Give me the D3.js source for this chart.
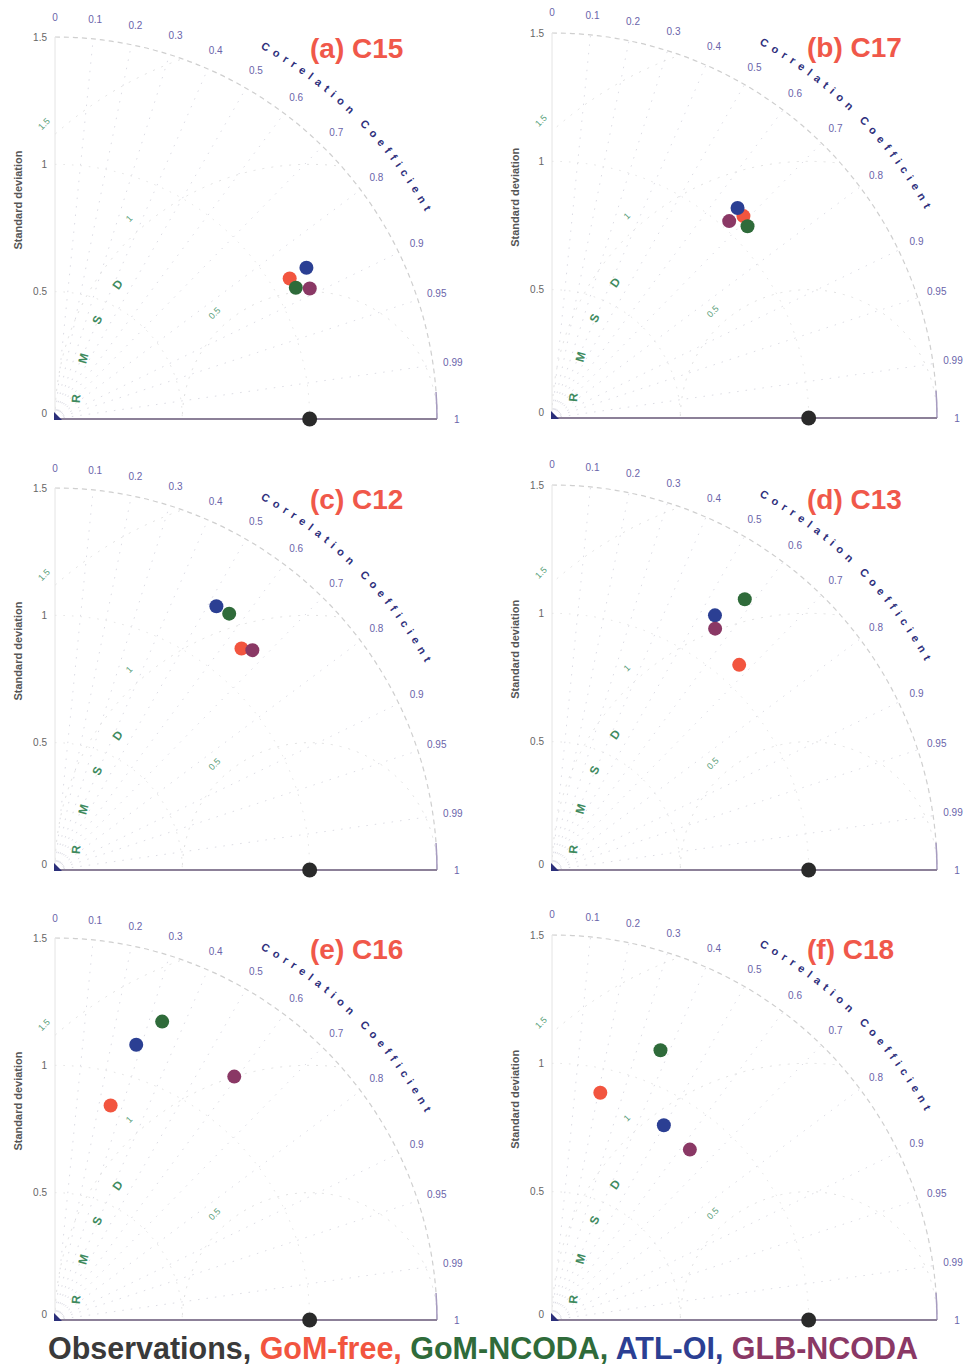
<!DOCTYPE html>
<html><head><meta charset="utf-8">
<script src="https://cdn.jsdelivr.net/npm/d3@7"></script>
<style>body{margin:0;background:#fff}</style>
</head><body>
<svg id="c" width="969" height="1366" xmlns="http://www.w3.org/2000/svg"></svg>
<script>
// ---------------- data ----------------
const panels = ["(a) C15","(b) C17","(c) C12","(d) C13","(e) C16","(f) C18"];
const models = ["GoM-free","GoM-NCODA","ATL-OI","GLB-NCODA"];
const modelColors = ["#f2553f","#2f6b3a","#2b3f93","#8a3865"];
const obsColor = "#2a2a2a";
// normalized standard deviation and correlation per panel (a..f)
const stdGoMfree   = [1.074,1.084,1.137,1.082,0.870,0.905];
const corrGoMfree  = [0.858,0.688,0.644,0.674,0.251,0.208];
const stdGoMNCODA  = [1.077,1.067,1.217,1.295,1.245,1.133];
const corrGoMNCODA = [0.878,0.714,0.562,0.580,0.338,0.373];
const stdATLOI     = [1.152,1.092,1.214,1.178,1.127,0.875];
const corrATLOI    = [0.857,0.662,0.522,0.539,0.283,0.498];
const stdGLBNCODA  = [1.124,1.032,1.160,1.135,1.187,0.854];
const corrGLBNCODA = [0.890,0.669,0.668,0.560,0.593,0.629];
const obsStd = 1, obsCorr = 1;
const corrTicks = [0,0.1,0.2,0.3,0.4,0.5,0.6,0.7,0.8,0.9,0.95,0.99,1];
const stdTicks = [0,0.5,1,1.5];
const stdGrid = [0.5,1];
const rmsTicks = [0.5,1,1.5];
const rmsLetters = ["R","M","S","D"];
const corrTitle = "Correlation Coefficient";
const stdMax = 1.5;
const legendLabels = ["Observations, ","GoM-free, ","GoM-NCODA, ","ATL-OI, ","GLB-NCODA"];
const legendColors = ["#3a3a3a","#f2553f","#2f6b3a","#2b3f93","#8a3865"];

const stdSeries = [stdGoMfree, stdGoMNCODA, stdATLOI, stdGLBNCODA];
const corrSeries = [corrGoMfree, corrGoMNCODA, corrATLOI, corrGLBNCODA];

// ---------------- layout ----------------
const origins = [[55,419],[552,418],[55,870],[552,870],[55,1320],[552,1320]];
const radii = [382,385,382,385,382,385];

const svg = d3.select("#c");
const font = "'Liberation Sans', Arial, sans-serif";
const deg = Math.PI/180;

// measure character widths for curved title
const meas = svg.append("text").attr("font-family", font).attr("font-size", 11).attr("font-weight","bold");
const charW = corrTitle.split("").map(ch => { meas.text(ch === " " ? "\u00a0" : ch); return meas.node().getComputedTextLength(); });
meas.remove();

panels.forEach((title, pi) => {
  const [ox, oy] = origins[pi];
  const R = radii[pi];
  const r = d3.scaleLinear().domain([0, stdMax]).range([0, R]);
  const pos = (s, c) => { const t = Math.acos(c); return [r(s)*Math.cos(t), -r(s)*Math.sin(t)]; };
  const g = svg.append("g").attr("transform", `translate(${ox},${oy})`);

  const clipId = "clip" + pi;
  g.append("clipPath").attr("id", clipId)
    .append("path").attr("d", `M0,0 L${R},0 A${R},${R} 0 0 0 0,${-R} Z`);

  const grid = g.append("g").attr("clip-path", `url(#${clipId})`);
  corrTicks.filter(c => c > 0 && c < 1).forEach(c => {
    const [x, y] = pos(stdMax, c);
    grid.append("line").attr("x1",0).attr("y1",0).attr("x2",x).attr("y2",y)
      .attr("stroke","#dcdce4").attr("stroke-width",1).attr("stroke-dasharray","1.5,7");
  });
  stdGrid.forEach(s => {
    grid.append("path").attr("d", `M0,${-r(s)} A${r(s)},${r(s)} 0 0 1 ${r(s)},0`)
      .attr("fill","none").attr("stroke","#e2e2e2").attr("stroke-dasharray","1.5,7");
  });
  const [obx, oby] = pos(obsStd, obsCorr);
  rmsTicks.forEach(k => {
    grid.append("circle").attr("cx", obx).attr("cy", oby).attr("r", r(k))
      .attr("fill","none").attr("stroke","#e0e0e0").attr("stroke-dasharray","2,7");
  });

  // outer arc
  g.append("path").attr("d", `M0,${-R} A${R},${R} 0 0 1 ${R},0`)
    .attr("fill","none").attr("stroke","#cfcfcf").attr("stroke-width",1.2).attr("stroke-dasharray","5,4");
  const [ex, ey] = pos(stdMax, 0.9975);
  g.append("path").attr("d", `M${ex},${ey} A${R},${R} 0 0 1 ${R},0`)
    .attr("fill","none").attr("stroke","#a79cc0").attr("stroke-width",1.5);
  g.append("line").attr("x1",0).attr("y1",0).attr("x2",0).attr("y2",-R)
    .attr("stroke","#e4e4e4").attr("stroke-width",1);
  g.append("line").attr("x1",0).attr("y1",0).attr("x2",R).attr("y2",0)
    .attr("stroke","#8c8098").attr("stroke-width",2);
  g.append("path").attr("d","M-1,1 L7,1 L-1,-7 Z").attr("fill","#2b2f7a");

  // std tick labels
  stdTicks.forEach(s => {
    g.append("text").attr("x", -8).attr("y", -r(s) + (s === 0 ? -6 : 0))
      .attr("text-anchor","end").attr("dominant-baseline","central")
      .attr("font-family", font).attr("font-size", 10).attr("fill","#666")
      .text(s);
  });
  g.append("text").attr("transform", `translate(-33,${-r(0.86)}) rotate(-90)`)
    .attr("text-anchor","middle").attr("font-family", font).attr("font-size", 11)
    .attr("font-weight","bold").attr("fill","#555").text("Standard deviation");

  // correlation tick labels
  corrTicks.forEach(c => {
    const t = Math.acos(c), rr = R*1.052;
    g.append("text").attr("x", rr*Math.cos(t)).attr("y", -rr*Math.sin(t))
      .attr("text-anchor","middle").attr("dominant-baseline","central")
      .attr("font-family", font).attr("font-size", 10).attr("fill","#6a64aa")
      .text(c);
  });

  // curved "Correlation Coefficient", letter by letter
  const cr = R*1.11, a1 = 60.5, a2 = 29.5;
  const L = cr*(a1 - a2)*deg;
  const n = charW.length;
  const sumW = d3.sum(charW.slice(1, n-1)) + (charW[0] + charW[n-1])/2;
  const gap = (L - sumW)/(n - 1);
  let s = 0;
  corrTitle.split("").forEach((ch, i) => {
    if (i > 0) s += charW[i-1]/2 + gap + charW[i]/2;
    if (ch === " ") return;
    const a = a1 - (s/cr)/deg;
    g.append("text")
      .attr("transform", `translate(${cr*Math.cos(a*deg)},${-cr*Math.sin(a*deg)}) rotate(${90 - a})`)
      .attr("text-anchor","middle").attr("font-family", font).attr("font-size", 11)
      .attr("font-weight","bold").attr("fill","#2e2f7c").text(ch);
  });

  // RMSD labels
  rmsTicks.forEach(k => {
    const a = 132*deg, rr = r(k) + 15;
    g.append("text").attr("transform", `translate(${obx + rr*Math.cos(a)},${-rr*Math.sin(a)}) rotate(-45)`)
      .attr("text-anchor","middle").attr("dominant-baseline","central")
      .attr("font-family", font).attr("font-size", 9).attr("fill","#5aa07a").text(k);
  });
  rmsLetters.forEach((Lt, i) => {
    const a = (175 - i*10), rr = r(0.92);
    g.append("text").attr("transform", `translate(${obx + rr*Math.cos(a*deg)},${-rr*Math.sin(a*deg)}) rotate(${90 - a})`)
      .attr("text-anchor","middle").attr("dominant-baseline","central")
      .attr("font-family", font).attr("font-size", 12).attr("font-weight","bold")
      .attr("fill","#3e8a5e").text(Lt);
  });

  g.append("circle").attr("cx", obx).attr("cy", oby).attr("r", 7.5).attr("fill", obsColor);

  models.forEach((m, mi) => {
    const [x, y] = pos(stdSeries[mi][pi], corrSeries[mi][pi]);
    g.append("circle").attr("cx", x).attr("cy", y).attr("r", 7).attr("fill", modelColors[mi]);
  });

  g.append("text").attr("x", 255).attr("y", -361)
    .attr("font-family", font).attr("font-size", 28).attr("font-weight","bold")
    .attr("fill","#f0584a").text(title);
});

// legend
const lt = svg.append("text").attr("x", 48).attr("y", 1359)
  .attr("font-family", "'Liberation Sans Narrow', 'Liberation Sans', Arial, sans-serif")
  .attr("font-size", 32).attr("font-weight","bold")
  .attr("textLength", 870).attr("lengthAdjust","spacingAndGlyphs");
legendLabels.forEach((l, i) => {
  lt.append("tspan").attr("fill", legendColors[i]).text(l);
});
</script>
</body></html>
